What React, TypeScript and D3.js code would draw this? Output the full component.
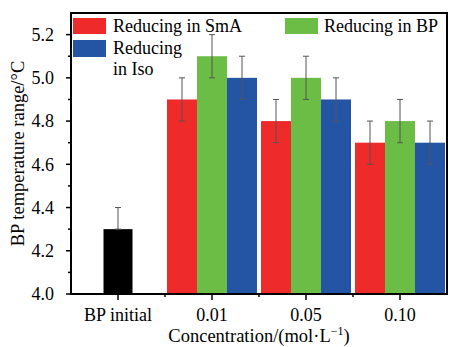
import React from 'react';
import * as d3 from 'd3';

const categories = ['BP initial', '0.01', '0.05', '0.10'];
const series = ['Reducing in SmA', 'Reducing in BP', 'Reducing in Iso'];
const colors = ['#ee2a2b', '#6cbd45', '#2455a5'];
const initialValue = 4.3;
const initialError = 0.1;
const smaValues = [4.9, 4.8, 4.7];
const bpValues = [5.1, 5.0, 4.8];
const isoValues = [5.0, 4.9, 4.7];
const errors = [0.1, 0.1, 0.1];
const yTicks = [4.0, 4.2, 4.4, 4.6, 4.8, 5.0, 5.2];
const yMinorTicks = [4.1, 4.3, 4.5, 4.7, 4.9, 5.1];

const W = 449;
const H = 347;
const m = { l: 71, r: 2, t: 13, b: 53 };
const font = "'Liberation Serif', 'DejaVu Serif', serif";

const ErrorBar = ({ x, y0, y1 }) => (
	<g stroke="#555" strokeWidth={1}>
		<line x1={x} x2={x} y1={y0} y2={y1} />
		<line x1={x - 3} x2={x + 3} y1={y0} y2={y0} />
		<line x1={x - 3} x2={x + 3} y1={y1} y2={y1} />
	</g>
);

const App = () => {
	const x = d3.scaleBand().domain(categories).range([ m.l, W - m.r ]).padding(0);
	const y = d3.scaleLinear().domain([ 4.0, 5.3 ]).range([ H - m.b, m.t ]);
	const inner = d3.scaleBand().domain(series).range([ -45, 45 ]);
	const groups = [ smaValues, bpValues, isoValues ];
	const bottom = H - m.b;
	const bw = inner.bandwidth();

	return (
		<svg width={W} height={H} style={{ position: 'absolute', left: 0, top: 0, fontFamily: font }}>
			{/* initial bar */}
			<rect
				x={x('BP initial') + x.bandwidth() / 2 - 14.5}
				y={y(initialValue)}
				width={29}
				height={bottom - y(initialValue)}
				fill="#000"
			/>
			<ErrorBar x={x('BP initial') + x.bandwidth() / 2} y0={y(initialValue + initialError)} y1={y(initialValue)} />

			{categories.slice(1).map((c, ci) =>
				series.map((s, si) => {
					const v = groups[si][ci];
					const cx = x(c) + x.bandwidth() / 2 + inner(s);
					return (
						<g key={c + s}>
							<rect x={cx} y={y(v)} width={bw} height={bottom - y(v)} fill={colors[si]} />
							<ErrorBar x={cx + bw / 2} y0={y(v + errors[ci])} y1={y(v - errors[ci])} />
						</g>
					);
				})
			)}

			{/* frame */}
			<rect x={m.l} y={m.t} width={W - m.r - m.l} height={bottom - m.t} fill="none" stroke="#000" strokeWidth={2} />

			{/* y axis */}
			{yTicks.map((t) => (
				<g key={t}>
					<line x1={m.l - 5} x2={m.l} y1={y(t)} y2={y(t)} stroke="#000" strokeWidth={1.5} />
					<text x={m.l - 17} y={y(t)} dy="0.35em" textAnchor="end" fontSize={18}>
						{t.toFixed(1)}
					</text>
				</g>
			))}
			{yMinorTicks.map((t) => (
				<line key={t} x1={m.l - 3} x2={m.l} y1={y(t)} y2={y(t)} stroke="#000" strokeWidth={1.5} />
			))}
			<text
				transform={`translate(24, ${(m.t + bottom) / 2}) rotate(-90)`}
				textAnchor="middle"
				fontSize={18.5}
			>
				BP temperature range/°C
			</text>

			{/* x axis */}
			{categories.map((c) => (
				<g key={c}>
					<line
						x1={x(c) + x.bandwidth() / 2}
						x2={x(c) + x.bandwidth() / 2}
						y1={bottom}
						y2={bottom + 6}
						stroke="#000"
						strokeWidth={1.5}
					/>
					<text x={x(c) + x.bandwidth() / 2} y={bottom + 27} textAnchor="middle" fontSize={18}>
						{c}
					</text>
				</g>
			))}
			{categories.slice(1).map((c) => (
				<line key={c} x1={x(c)} x2={x(c)} y1={bottom} y2={bottom + 3} stroke="#000" strokeWidth={1.5} />
			))}
			<text x={(m.l + W - m.r) / 2} y={bottom + 48} textAnchor="middle" fontSize={18.5}>
				Concentration/(mol·L<tspan dy={-7} fontSize={12}>−1</tspan>
				<tspan dy={7}>)</tspan>
			</text>

			{/* legend */}
			<rect x={73} y={18} width={33} height={16} fill={colors[0]} />
			<text x={113} y={32} fontSize={18}>{series[0]}</text>
			<rect x={73} y={40} width={33} height={17} fill={colors[2]} />
			<text x={113} y={54} fontSize={18}>Reducing</text>
			<text x={113} y={75} fontSize={18}>in Iso</text>
			<rect x={285} y={18} width={33} height={16} fill={colors[1]} />
			<text x={324} y={32} fontSize={18}>{series[1]}</text>
		</svg>
	);
};

export default App;
